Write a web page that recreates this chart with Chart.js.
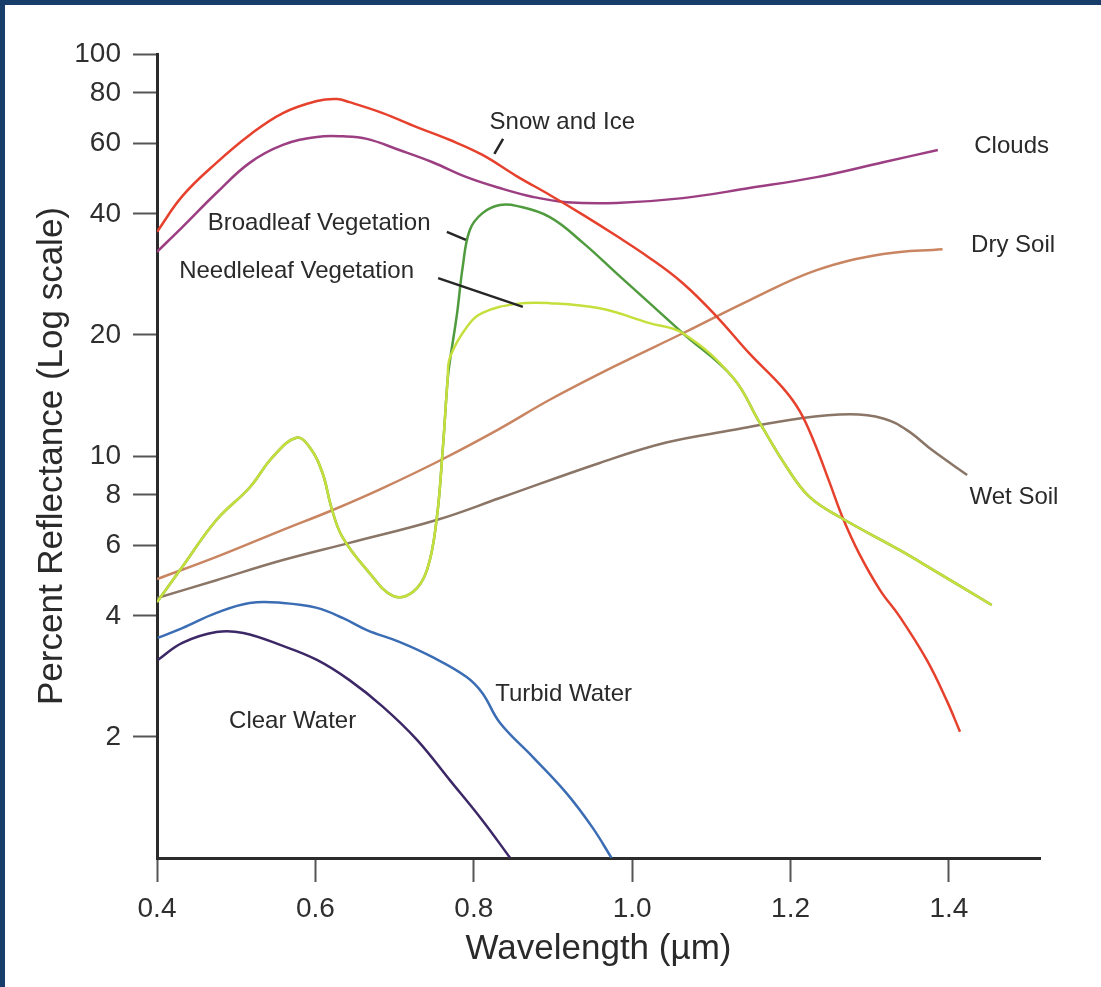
<!DOCTYPE html>
<html>
<head>
<meta charset="utf-8">
<script src="https://cdn.jsdelivr.net/npm/chart.js@4.4.1/dist/chart.umd.min.js"></script>
<style>
  html, body { margin: 0; padding: 0; }
  body { width: 1101px; height: 987px; background: #173d6b; position: relative; overflow: hidden; }
  .sheet { position: absolute; left: 5px; top: 5px; right: 0; bottom: 0; background: #fff; }
  #spectra { position: absolute; left: 0; top: 0; }
</style>
</head>
<body>
<div class="sheet"></div>
<canvas id="spectra" width="1101" height="987"></canvas>
<script>
// Eixos
const wavelengthTicks = [0.4, 0.6, 0.8, 1.0, 1.2, 1.4];
const reflectanceTicks = [2, 4, 6, 8, 10, 20, 40, 60, 80, 100];

// Curvas [comprimento de onda (µm), reflectância (%)]
const snowIce = [[0.400,36.1],[0.432,44.3],[0.475,53.6],[0.517,62.9],[0.559,71.3],[0.602,76.4],[0.627,77.3],[0.643,75.9],[0.685,71.3],[0.728,65.8],[0.770,61.1],[0.811,56.1],[0.854,49.7],[0.896,44.6],[0.938,39.8],[0.980,35.3],[1.022,31.1],[1.064,26.9],[1.107,22.2],[1.148,18.0],[1.190,14.8],[1.212,12.9],[1.230,10.8],[1.249,8.62],[1.266,7.01],[1.287,5.70],[1.313,4.64],[1.338,3.98],[1.372,3.11],[1.397,2.47],[1.414,2.06]];
const clouds = [[0.400,32.2],[0.432,37.1],[0.475,45.1],[0.517,53.6],[0.559,59.4],[0.602,62.2],[0.635,62.4],[0.665,61.5],[0.706,57.7],[0.748,53.8],[0.791,49.4],[0.833,46.4],[0.875,44.1],[0.917,42.8],[0.980,42.6],[1.064,43.8],[1.148,46.4],[1.233,49.4],[1.317,53.8],[1.386,57.7]];
const needleleaf = [[0.400,4.33],[0.432,5.30],[0.475,6.93],[0.517,8.35],[0.546,9.94],[0.576,11.1],[0.593,10.5],[0.609,9.07],[0.620,7.47],[0.634,6.29],[0.665,5.21],[0.698,4.49],[0.723,4.59],[0.741,5.21],[0.753,6.93],[0.761,10.5],[0.767,15.5],[0.770,17.6],[0.791,20.9],[0.811,22.7],[0.854,23.9],[0.896,24.0],[0.959,23.3],[1.022,21.4],[1.064,20.2],[1.127,15.7],[1.161,12.1],[1.195,9.39],[1.224,7.91],[1.262,7.05],[1.338,5.83],[1.380,5.21],[1.454,4.26]];
const broadleaf = [[0.400,4.33],[0.432,5.30],[0.475,6.93],[0.517,8.35],[0.546,9.94],[0.576,11.1],[0.593,10.5],[0.609,9.07],[0.620,7.47],[0.634,6.29],[0.665,5.21],[0.698,4.49],[0.723,4.59],[0.741,5.21],[0.753,6.93],[0.761,10.5],[0.767,15.5],[0.770,17.3],[0.779,22.7],[0.786,29.5],[0.795,36.5],[0.811,40.2],[0.833,42.1],[0.854,41.9],[0.896,39.3],[0.938,33.9],[0.980,28.5],[1.022,24.0],[1.064,20.2],[1.127,15.7],[1.161,12.1],[1.195,9.39],[1.224,7.91],[1.262,7.05],[1.338,5.83],[1.380,5.21],[1.454,4.26]];
const drySoil = [[0.400,4.94],[0.475,5.61],[0.559,6.55],[0.622,7.34],[0.685,8.32],[0.761,9.83],[0.833,11.7],[0.896,13.8],[0.980,16.8],[1.064,20.2],[1.148,24.4],[1.233,29.0],[1.317,31.8],[1.392,32.7]];
const wetSoil = [[0.400,4.43],[0.475,4.91],[0.559,5.51],[0.643,6.08],[0.753,6.93],[0.833,7.86],[0.959,9.61],[1.043,10.8],[1.127,11.6],[1.211,12.4],[1.275,12.7],[1.317,12.4],[1.347,11.6],[1.380,10.3],[1.423,8.97]];
const turbidWater = [[0.401,3.53],[0.432,3.73],[0.475,4.07],[0.517,4.31],[0.559,4.31],[0.602,4.19],[0.635,3.95],[0.665,3.69],[0.706,3.45],[0.748,3.16],[0.791,2.82],[0.811,2.57],[0.833,2.17],[0.875,1.78],[0.917,1.45],[0.950,1.19],[0.974,1.0]];
const clearWater = [[0.401,3.11],[0.432,3.43],[0.475,3.65],[0.509,3.63],[0.559,3.37],[0.602,3.11],[0.643,2.77],[0.685,2.38],[0.728,1.97],[0.770,1.56],[0.811,1.24],[0.846,1.0]];

// Rótulos das curvas e linhas de chamada (em coordenadas dos dados)
const notes = [
    { text: 'Snow and Ice', x: 0.82, y: 67.7 },
    { text: 'Clouds', x: 1.432, y: 59.0 },
    { text: 'Dry Soil', x: 1.428, y: 33.4 },
    { text: 'Wet Soil', x: 1.426, y: 7.9 },
    { text: 'Broadleaf Vegetation', x: 0.464, y: 38.0 },
    { text: 'Needleleaf Vegetation', x: 0.428, y: 28.8 },
    { text: 'Turbid Water', x: 0.827, y: 2.56 },
    { text: 'Clear Water', x: 0.491, y: 2.19 }
];
const leaders = [
    [[0.837, 61.5], [0.826, 56.4]],
    [[0.766, 36.1], [0.790, 34.5]],
    [[0.755, 27.7], [0.862, 23.5]]
];

const FONT = '"Liberation Sans", Arial, sans-serif';
const toPoints = arr => arr.map(([x, y]) => ({ x, y }));

const line = (label, data, color, order) => ({
    label,
    data: toPoints(data),
    borderColor: color,
    borderWidth: 2.5,
    pointRadius: 0,
    fill: false,
    tension: 0.4,
    order
});

const curveLabels = {
    id: 'curveLabels',
    afterDatasetsDraw(chart) {
        const { ctx, scales: { x, y } } = chart;
        ctx.save();
        ctx.strokeStyle = '#262626';
        ctx.lineWidth = 2.5;
        leaders.forEach(([a, b]) => {
            ctx.beginPath();
            ctx.moveTo(x.getPixelForValue(a[0]), y.getPixelForValue(a[1]));
            ctx.lineTo(x.getPixelForValue(b[0]), y.getPixelForValue(b[1]));
            ctx.stroke();
        });
        ctx.fillStyle = '#2a2a2a';
        ctx.font = '24px ' + FONT;
        ctx.textAlign = 'left';
        ctx.textBaseline = 'middle';
        notes.forEach(n => ctx.fillText(n.text, x.getPixelForValue(n.x), y.getPixelForValue(n.y)));
        ctx.restore();
    }
};

new Chart(document.getElementById('spectra'), {
    type: 'line',
    data: {
        datasets: [
            line('Needleleaf Vegetation', needleleaf, '#c6df3c', 1),
            line('Broadleaf Vegetation', broadleaf, '#4f9b3e', 2),
            line('Snow and Ice', snowIce, '#e6412d', 3),
            line('Clouds', clouds, '#9c3f82', 4),
            line('Dry Soil', drySoil, '#c98561', 5),
            line('Wet Soil', wetSoil, '#8a7566', 6),
            line('Turbid Water', turbidWater, '#3b6db4', 7),
            line('Clear Water', clearWater, '#3c2866', 8)
        ]
    },
    options: {
        responsive: false,
        animation: false,
        layout: { padding: { top: 54, right: 61, left: 0, bottom: 0 } },
        plugins: { legend: { display: false }, tooltip: { enabled: false } },
        scales: {
            x: {
                type: 'linear',
                min: 0.4,
                max: 1.515,
                afterBuildTicks: s => { s.ticks = wavelengthTicks.map(v => ({ value: v })); },
                afterFit: s => { s.height = 129; },
                border: { display: true, color: '#2b2b2b', width: 3 },
                grid: { drawOnChartArea: false, drawTicks: true, tickLength: 24, tickColor: '#555', tickWidth: 2 },
                ticks: { color: '#2f2f2f', padding: 10, font: { family: FONT, size: 28 }, callback: v => v.toFixed(1) },
                title: { display: true, text: 'Wavelength (µm)', color: '#2a2a2a', font: { family: FONT, size: 35 }, padding: { top: 0, bottom: 17 } }
            },
            y: {
                type: 'logarithmic',
                min: 1,
                max: 100,
                afterBuildTicks: s => { s.ticks = reflectanceTicks.map(v => ({ value: v })); },
                afterFit: s => { s.width = 157; },
                border: { display: true, color: '#2b2b2b', width: 3 },
                grid: { drawOnChartArea: false, drawTicks: true, tickLength: 24, tickColor: '#555', tickWidth: 2 },
                ticks: { color: '#2f2f2f', padding: 12, font: { family: FONT, size: 28 }, callback: v => String(v) },
                title: { display: true, text: 'Percent Reflectance (Log scale)', color: '#2a2a2a', font: { family: FONT, size: 35 }, padding: { top: 31, bottom: 0 } }
            }
        }
    },
    plugins: [curveLabels]
});
</script>
</body>
</html>
